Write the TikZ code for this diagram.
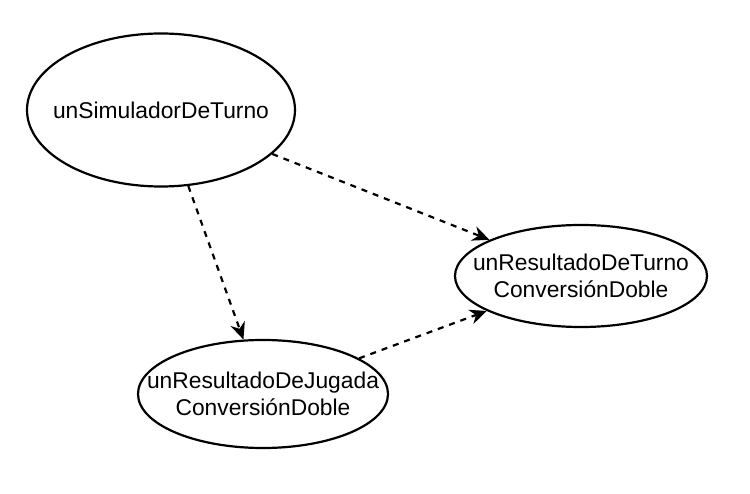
\documentclass[tikz,border=0pt]{standalone}
\usepackage{fontspec}
\setmainfont{Liberation Sans}
\usetikzlibrary{shapes.geometric,arrows.meta}

\begin{document}
\begin{tikzpicture}[x=1pt,y=-1pt,
        obj/.style={draw, ellipse, line width=2.2pt, inner sep=0pt},
        txt/.style={align=center, inner sep=0pt, font=\fontsize{22.8}{27}\selectfont},
        dep/.style={-{Stealth[length=17pt,width=15pt]}, line width=2.2pt, dash pattern=on 6pt off 6pt}]
        \useasboundingbox (0,0) rectangle (750,494);

        \node[obj, minimum width=268pt, minimum height=153pt] (sim) at (161,110) {};
        \node[txt] at (sim) {unSimuladorDeTurno};
        \node[obj, minimum width=250pt, minimum height=108pt] (resJugada) at (263,394) {};
        \node[txt] at (resJugada) {unResultadoDeJugada\\ConversiónDoble};
        \node[obj, minimum width=252pt, minimum height=102pt] (resTurno) at (581,276) {};
        \node[txt] at (resTurno) {unResultadoDeTurno\\ConversiónDoble};

        \draw[dep] (sim) -- (resTurno);
        \draw[dep] (sim) -- (resJugada);
        \draw[dep] (resJugada) -- (resTurno);
    \end{tikzpicture}
\end{document}
